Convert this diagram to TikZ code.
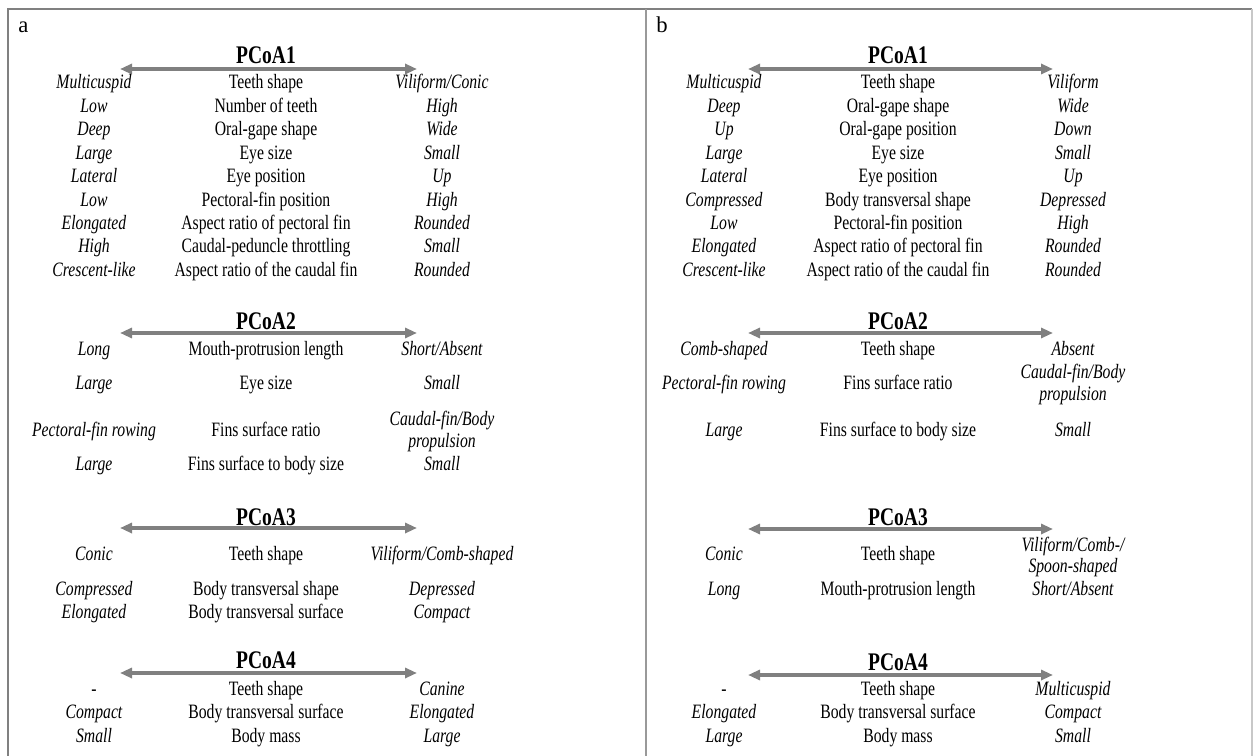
\documentclass[tikz,border=0pt]{standalone}
\usepackage{fontspec}
\setmainfont{Liberation Serif}[FakeStretch=0.77]
\newfontfamily\plainserif{Liberation Serif}
\usetikzlibrary{arrows.meta}
\definecolor{axisgray}{RGB}{128,128,128}
\definecolor{framegray}{RGB}{128,128,128}
\definecolor{lightframe}{RGB}{200,200,200}
\newcommand{\trio}[5]{%
  \node[leftcell]  (#1l) at (\colL,#2) {#3};
  \node[midcell]   (#1m) at (\colM,#2) {#4};
  \node[rightcell] (#1r) at (\colR,#2) {#5};}
\begin{document}
\begin{tikzpicture}[x=0.75pt,y=-0.75pt,
  cell/.style={inner sep=0pt,anchor=base,font=\fontsize{15.3pt}{18pt}\selectfont},
  leftcell/.style={cell,font=\fontsize{15.3pt}{18pt}\selectfont\itshape},
  midcell/.style={cell},
  rightcell/.style={cell,font=\fontsize{15.3pt}{18pt}\selectfont\itshape},
  axistitle/.style={inner sep=0pt,anchor=base,font=\fontsize{19pt}{22pt}\selectfont\bfseries},
  axisarrow/.style={draw=axisgray,line width=2.3pt,{Triangle[length=9pt,width=7.5pt]}-{Triangle[length=9pt,width=7.5pt]}},
  panellabel/.style={inner sep=0pt,anchor=base west,font=\plainserif\fontsize{17pt}{20pt}\selectfont},
  frameline/.style={draw=framegray,line width=2pt}]
\useasboundingbox (0,0) rectangle (1253,756);
% frame
\coordinate (fTL) at (8,9);
\coordinate (fBL) at (8,756);
\coordinate (fTR) at (1252,9);
\coordinate (fBR) at (1252,756);
\coordinate (dT) at (646,9);
\coordinate (dB) at (646,756);
\draw[frameline,line width=2.2pt] (fBL) -- (fTL) -- (fTR);
\draw[draw=lightframe,line width=1pt] (fTR) -- (fBR);
\draw[draw=axisgray!80,line width=1.6pt] (dT) -- (dB);
\node[panellabel] (pa) at (18,33) {a};
\node[panellabel] (pb) at (656,33) {b};
% ================= panel a =================
\def\colL{94}\def\colM{266}\def\colR{442}
\coordinate (a1L) at (120,69); \coordinate (a1R) at (417,69);
\draw[axisarrow] (a1L) -- (a1R);
\node[axistitle] (a1t) at (\colM,64) {PCoA1};
\trio{aA1}{89}{Multicuspid}{Teeth shape}{Viliform/Conic}
\trio{aA2}{112.4}{Low}{Number of teeth}{High}
\trio{aA3}{135.8}{Deep}{Oral-gape shape}{Wide}
\trio{aA4}{159.2}{Large}{Eye size}{Small}
\trio{aA5}{182.6}{Lateral}{Eye position}{Up}
\trio{aA6}{206}{Low}{Pectoral-fin position}{High}
\trio{aA7}{229.4}{Elongated}{Aspect ratio of pectoral fin}{Rounded}
\trio{aA8}{252.8}{High}{Caudal-peduncle throttling}{Small}
\trio{aA9}{276.2}{Crescent-like}{Aspect ratio of the caudal fin}{Rounded}
% PCoA2
\coordinate (a2L) at (120,333); \coordinate (a2R) at (417,333);
\draw[axisarrow] (a2L) -- (a2R);
\node[axistitle] (a2t) at (\colM,329) {PCoA2};
\trio{aB1}{355}{Long}{Mouth-protrusion length}{Short/Absent}
\trio{aB2}{389}{Large}{Eye size}{Small}
\node[leftcell] (aB3l) at (\colL,436) {Pectoral-fin rowing};
\node[midcell] (aB3m) at (\colM,436) {Fins surface ratio};
\node[rightcell] (aB3r) at (\colR,425) {Caudal-fin/Body};
\node[rightcell] (aB3r2) at (\colR,447) {propulsion};
\trio{aB4}{470}{Large}{Fins surface to body size}{Small}
% PCoA3
\coordinate (a3L) at (120,528); \coordinate (a3R) at (417,528);
\draw[axisarrow] (a3L) -- (a3R);
\node[axistitle] (a3t) at (\colM,525) {PCoA3};
\trio{aC1}{560}{Conic}{Teeth shape}{Viliform/Comb-shaped}
\trio{aC2}{595}{Compressed}{Body transversal shape}{Depressed}
\trio{aC3}{618}{Elongated}{Body transversal surface}{Compact}
% PCoA4
\coordinate (a4L) at (120,673); \coordinate (a4R) at (417,673);
\draw[axisarrow] (a4L) -- (a4R);
\node[axistitle] (a4t) at (\colM,668) {PCoA4};
\trio{aD1}{695}{-}{Teeth shape}{Canine}
\trio{aD2}{718}{Compact}{Body transversal surface}{Elongated}
\trio{aD3}{742}{Small}{Body mass}{Large}
% ================= panel b =================
\def\colL{724}\def\colM{898}\def\colR{1073}
\coordinate (b1L) at (748,69); \coordinate (b1R) at (1053,69);
\draw[axisarrow] (b1L) -- (b1R);
\node[axistitle] (b1t) at (\colM,64) {PCoA1};
\trio{bA1}{89}{Multicuspid}{Teeth shape}{Viliform}
\trio{bA2}{112.4}{Deep}{Oral-gape shape}{Wide}
\trio{bA3}{135.8}{Up}{Oral-gape position}{Down}
\trio{bA4}{159.2}{Large}{Eye size}{Small}
\trio{bA5}{182.6}{Lateral}{Eye position}{Up}
\trio{bA6}{206}{Compressed}{Body transversal shape}{Depressed}
\trio{bA7}{229.4}{Low}{Pectoral-fin position}{High}
\trio{bA8}{252.8}{Elongated}{Aspect ratio of pectoral fin}{Rounded}
\trio{bA9}{276.2}{Crescent-like}{Aspect ratio of the caudal fin}{Rounded}
% PCoA2
\coordinate (b2L) at (748,333); \coordinate (b2R) at (1053,333);
\draw[axisarrow] (b2L) -- (b2R);
\node[axistitle] (b2t) at (\colM,329) {PCoA2};
\trio{bB1}{355}{Comb-shaped}{Teeth shape}{Absent}
\node[leftcell] (bB2l) at (\colL,389) {Pectoral-fin rowing};
\node[midcell] (bB2m) at (\colM,389) {Fins surface ratio};
\node[rightcell] (bB2r) at (\colR,378) {Caudal-fin/Body};
\node[rightcell] (bB2r2) at (\colR,400) {propulsion};
\trio{bB3}{436}{Large}{Fins surface to body size}{Small}
% PCoA3
\coordinate (b3L) at (748,529); \coordinate (b3R) at (1053,529);
\draw[axisarrow] (b3L) -- (b3R);
\node[axistitle] (b3t) at (\colM,525) {PCoA3};
\node[leftcell] (bC1l) at (\colL,560) {Conic};
\node[midcell] (bC1m) at (\colM,560) {Teeth shape};
\node[rightcell] (bC1r) at (\colR,551) {Viliform/Comb-/};
\node[rightcell] (bC1r2) at (\colR,572) {Spoon-shaped};
\trio{bC2}{595}{Long}{Mouth-protrusion length}{Short/Absent}
% PCoA4
\coordinate (b4L) at (748,675); \coordinate (b4R) at (1053,675);
\draw[axisarrow] (b4L) -- (b4R);
\node[axistitle] (b4t) at (\colM,670) {PCoA4};
\trio{bD1}{695}{-}{Teeth shape}{Multicuspid}
\trio{bD2}{718}{Elongated}{Body transversal surface}{Compact}
\trio{bD3}{742}{Large}{Body mass}{Small}
\end{tikzpicture}
\end{document}
